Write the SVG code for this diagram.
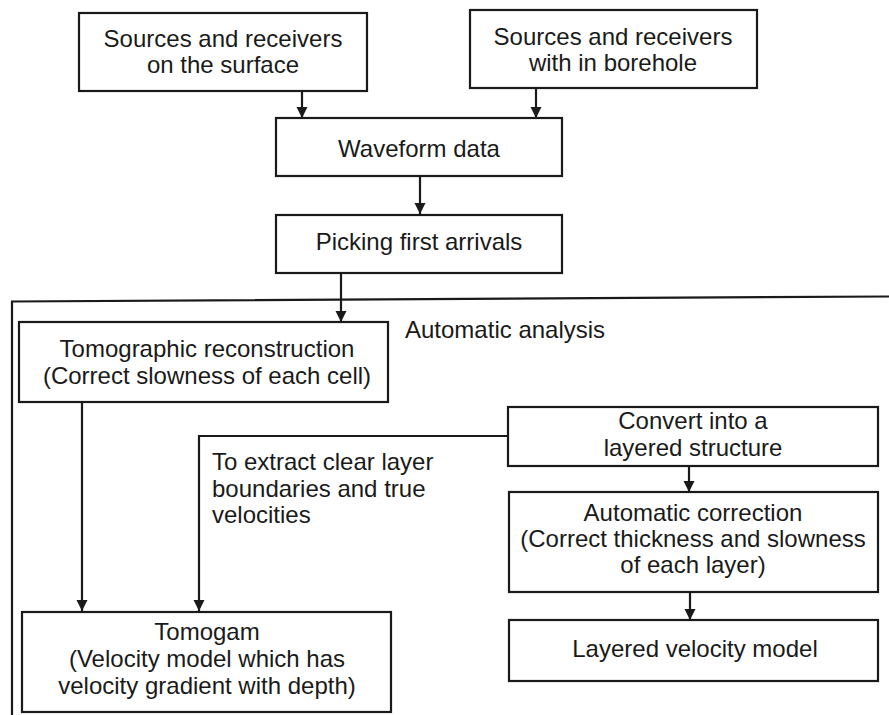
<svg xmlns="http://www.w3.org/2000/svg" width="889" height="715" viewBox="0 0 889 715">
  <defs>
    <marker id="head" markerUnits="userSpaceOnUse" markerWidth="12" markerHeight="12" viewBox="0 0 12 12" refX="11" refY="6" orient="auto">
      <path d="M0,0.5 L11,6 L0,11.5 Z" fill="#1a1a1a"/>
    </marker>
  </defs>
  <style>
    .box { fill: #ffffff; stroke: #1a1a1a; stroke-width: 2.2; }
    .lbl { font-family: "Liberation Sans", Arial, Helvetica, sans-serif; font-size: 24px; fill: #1a1a1a; text-anchor: middle; }
    .note { font-family: "Liberation Sans", Arial, Helvetica, sans-serif; font-size: 24px; fill: #1a1a1a; }
    .wire { fill: none; stroke: #1a1a1a; stroke-width: 2.2; }
  </style>
  <rect width="889" height="715" fill="#ffffff"/>

  <!-- automatic analysis frame -->
  <g id="frame">
    <path class="wire" d="M889,296.5 L12,301.5 V715"/>
    <text class="note" x="405" y="338">Automatic analysis</text>
  </g>

  <g id="connectors">
    <path class="wire" marker-end="url(#head)" d="M302,91 V118"/>
    <path class="wire" marker-end="url(#head)" d="M536,88 V118"/>
    <path class="wire" marker-end="url(#head)" d="M420,176 V214"/>
    <path class="wire" marker-end="url(#head)" d="M341,273 V322"/>
    <path class="wire" marker-end="url(#head)" d="M82,402 V611"/>
    <path class="wire" marker-end="url(#head)" d="M508,436 H199 V611"/>
    <path class="wire" marker-end="url(#head)" d="M689,466 V492"/>
    <path class="wire" marker-end="url(#head)" d="M690,592 V620"/>
    <text class="note" x="212" y="470">To extract clear layer</text>
    <text class="note" x="212" y="497">boundaries and true</text>
    <text class="note" x="212" y="523">velocities</text>
  </g>

  <g id="surface">
    <rect class="box" x="79" y="13" width="288" height="78"/>
    <text class="lbl" x="223" y="47">Sources and receivers</text>
    <text class="lbl" x="223" y="73">on the surface</text>
  </g>

  <g id="borehole">
    <rect class="box" x="470" y="10" width="287" height="78"/>
    <text class="lbl" x="613" y="45">Sources and receivers</text>
    <text class="lbl" x="613" y="71">with in borehole</text>
  </g>

  <g id="waveform">
    <rect class="box" x="276" y="118" width="286" height="58"/>
    <text class="lbl" x="419" y="157">Waveform data</text>
  </g>

  <g id="picking">
    <rect class="box" x="276" y="215" width="286" height="58"/>
    <text class="lbl" x="419" y="250">Picking first arrivals</text>
  </g>

  <g id="tomographic">
    <rect class="box" x="19" y="322" width="369" height="80"/>
    <text class="lbl" x="207" y="357">Tomographic reconstruction</text>
    <text class="lbl" x="207" y="384">(Correct slowness of each cell)</text>
  </g>

  <g id="convert">
    <rect class="box" x="508" y="407" width="370" height="59"/>
    <text class="lbl" x="693" y="429">Convert into a</text>
    <text class="lbl" x="693" y="456">layered structure</text>
  </g>

  <g id="correction">
    <rect class="box" x="509" y="492" width="369" height="100"/>
    <text class="lbl" x="693" y="521">Automatic correction</text>
    <text class="lbl" x="693" y="547">(Correct thickness and slowness</text>
    <text class="lbl" x="693" y="573">of each layer)</text>
  </g>

  <g id="layered">
    <rect class="box" x="509" y="620" width="369" height="61"/>
    <text class="lbl" x="695" y="657">Layered velocity model</text>
  </g>

  <g id="tomogam">
    <rect class="box" x="22" y="612" width="369" height="100"/>
    <text class="lbl" x="207" y="640">Tomogam</text>
    <text class="lbl" x="207" y="667">(Velocity model which has</text>
    <text class="lbl" x="207" y="694">velocity gradient with depth)</text>
  </g>
</svg>
